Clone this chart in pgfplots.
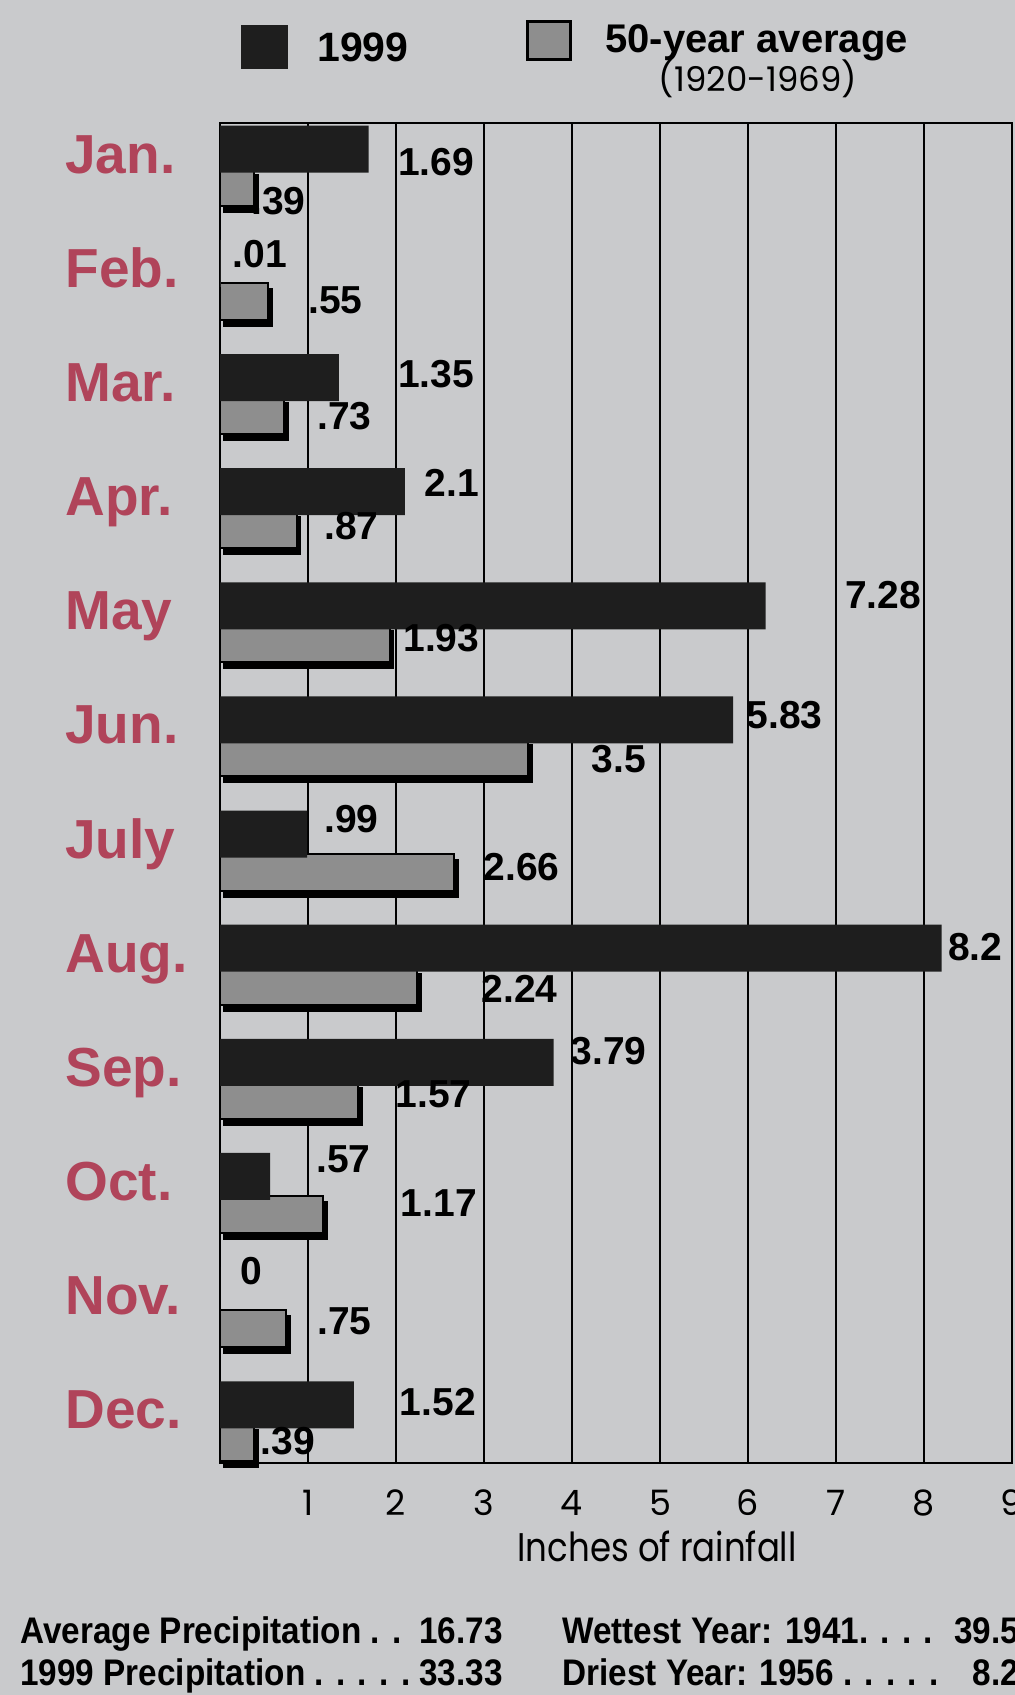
\documentclass[border=0pt]{standalone}
\usepackage{fontspec}
\setmainfont{Liberation Sans}
\newfontfamily\geofont{Poppins}
\newfontfamily\geocond[FakeStretch=0.85]{Poppins}
\newfontfamily\condfont[FakeStretch=0.9]{Liberation Sans}
\usepackage{pgfplots}
\pgfplotsset{compat=1.18}
\usetikzlibrary{shadows}
\definecolor{bg}{HTML}{C9CACC}
\definecolor{monthred}{HTML}{B0445A}
\definecolor{barblack}{HTML}{1E1E1E}
\definecolor{bargray}{HTML}{8E8E8E}
\begin{document}
\begin{tikzpicture}[x=1pt,y=1pt]
\fill[bg] (0,0) rectangle (507.5,847.5);
\path[use as bounding box] (0,0) rectangle (507.5,847.5);
\begin{axis}[
  at={(110pt,116pt)}, anchor=south west,
  scale only axis, width=396pt, height=670pt,
  xmin=0, xmax=9, ymin=-0.37, ymax=11.37, y dir=reverse,
  xtick={1,...,9}, xticklabels={1,2,3,4,5,6,7,8,9},
  ytick={0,...,11},
  yticklabels={Jan.,Feb.,Mar.,Apr.,May,Jun.,July,Aug.,Sep.,Oct.,Nov.,Dec.},
  major tick length=0pt,
  xmajorgrids, grid style={black, line width=0.8pt},
  axis line style={black, line width=1pt},
  xticklabel style={font=\geofont\fontsize{17.5}{17.5}\selectfont, anchor=center, yshift=-20pt},
  yticklabel style={font=\bfseries\fontsize{27.5}{27.5}\selectfont, text=monthred, anchor=base west, inner sep=0pt, xshift=-77.5pt, yshift=-4pt},
  xlabel={Inches of rainfall},
  x label style={font=\geocond\fontsize{20}{20}\selectfont, at={(axis description cs:0.552,0)}, anchor=center, yshift=-41.5pt},
  clip=false,
]
% 50-year average (1920-1969)
\addplot[xbar, bar width=18.5pt, bar shift=-11pt, fill=bargray, draw=black, line width=1pt,
  drop shadow={shadow xshift=1.8pt, shadow yshift=-3pt, fill=black, opacity=1}]
  coordinates {(0.39,0) (0.55,1) (0.73,2) (0.87,3) (1.93,4) (3.5,5) (2.66,6) (2.24,7) (1.57,8) (1.17,9) (0.75,10) (0.39,11)};
% 1999 (May bar is drawn short in the original, at about 6.2)
\addplot[xbar, bar width=23.5pt, bar shift=8pt, fill=barblack, draw=none]
  coordinates {(1.69,0) (0.01,1) (1.35,2) (2.1,3) (6.2,4) (5.83,5) (0.99,6) (8.2,7) (3.79,8) (0.57,9) (0,10) (1.52,11)};
\begin{scope}[every node/.style={anchor=west, inner sep=0pt, font=\bfseries\fontsize{19.5}{19.5}\selectfont}]
\node at (axis cs:2.02,-0.03) {1.69};
\node at (axis cs:0.35,0.31) {.39};
\node at (axis cs:0.14,0.78) {.01};
\node at (axis cs:1.00,1.18) {.55};
\node at (axis cs:2.02,1.83) {1.35};
\node at (axis cs:1.10,2.20) {.73};
\node at (axis cs:2.32,2.78) {2.1};
\node at (axis cs:1.18,3.16) {.87};
\node at (axis cs:7.10,3.77) {7.28};
\node at (axis cs:2.08,4.14) {1.93};
\node at (axis cs:5.98,4.82) {5.83};
\node at (axis cs:4.22,5.20) {3.5};
\node at (axis cs:1.18,5.73) {.99};
\node at (axis cs:2.99,6.15) {2.66};
\node at (axis cs:8.27,6.85) {8.2};
\node at (axis cs:2.97,7.22) {2.24};
\node at (axis cs:3.98,7.76) {3.79};
\node at (axis cs:1.99,8.14) {1.57};
\node at (axis cs:1.09,8.71) {.57};
\node at (axis cs:2.05,9.09) {1.17};
\node at (axis cs:0.23,9.69) {0};
\node at (axis cs:1.10,10.13) {.75};
\node at (axis cs:2.04,10.84) {1.52};
\node at (axis cs:0.46,11.18) {.39};
\end{scope}
\end{axis}
% legend
\fill[barblack] (120.5,813) rectangle (144,835);
\node[anchor=base west, inner sep=0pt, font=\bfseries\fontsize{20.5}{20.5}\selectfont] at (158.5,816.5) {1999};
\filldraw[fill=bargray, draw=black, line width=1.5pt] (263.5,817.5) rectangle (285,836.5);
\node[anchor=base west, inner sep=0pt, font=\bfseries\fontsize{20}{20}\selectfont] at (302.5,821) {50-year average};
\node[inner sep=0pt, font=\geofont\fontsize{17}{17}\selectfont] at (379,808) {(1920-1969)};
% footer
\begin{scope}[every node/.style={inner sep=0pt, font=\condfont\bfseries\fontsize{18.5}{18.5}\selectfont}]
\node[anchor=base west] at (10,25.75) {Average Precipitation . .};
\node[anchor=base east] at (251.5,25.75) {16.73};
\node[anchor=base west] at (10,4.75) {1999 Precipitation . . . . .};
\node[anchor=base east] at (251.5,4.75) {33.33};
\node[anchor=base west] at (281,25.75) {Wettest Year: 1941. . . .};
\node[anchor=base east] at (519,25.75) {39.56};
\node[anchor=base west] at (281,4.75) {Driest Year: 1956 . . . . .};
\node[anchor=base east] at (519,4.75) {8.25};
\end{scope}
\end{tikzpicture}
\end{document}
